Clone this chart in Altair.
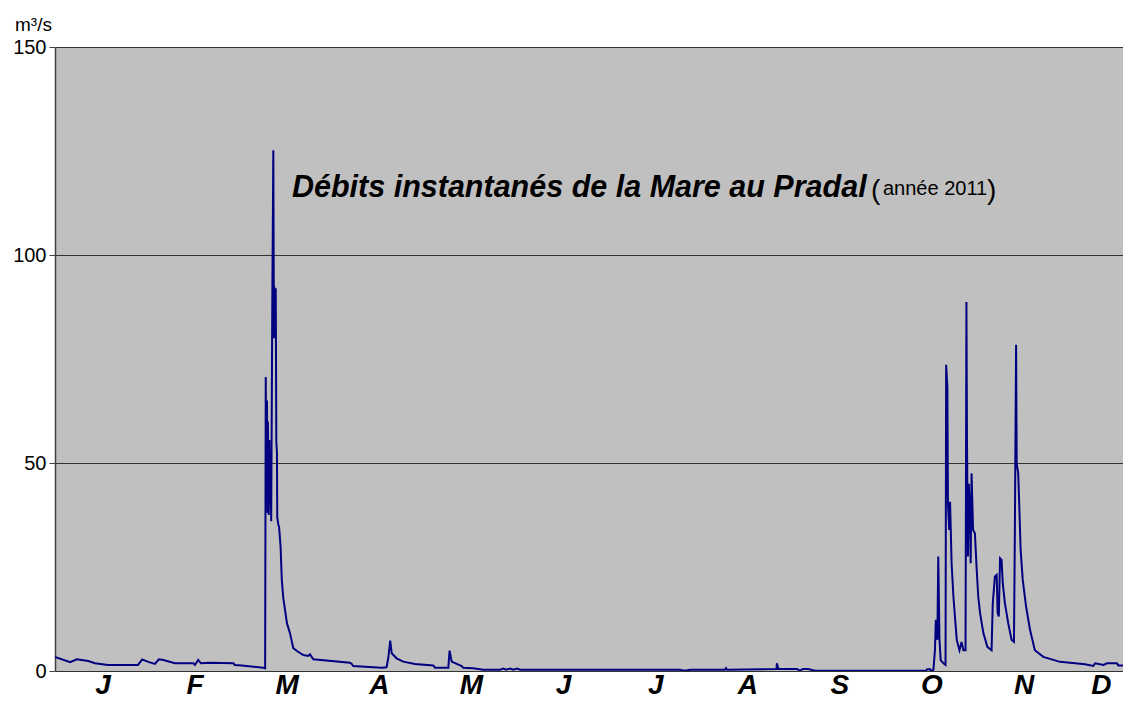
import altair as alt
import pandas as pd

# ---- data (day of year, flow in m3/s) ----
day = [0.0, 5.0, 7.2, 11.0, 13.2, 17.5, 27.4, 28.8, 30.8, 33.0, 34.3, 35.8, 39.6,
       45.7, 46.2, 47.3, 48.2, 51.2, 58.9, 59.4, 61.7, 68.8, 69.4,
       69.6, 69.8, 70.0, 70.2, 70.3, 70.6, 70.8, 71.0, 71.2, 71.4, 71.7, 71.8, 72.1,
       72.3, 72.4, 72.7, 72.9, 73.1, 73.3, 73.4, 73.8, 74.0, 74.5, 74.9, 75.4, 76.0,
       76.6, 77.6, 78.7, 79.9, 82.0, 83.6, 84.2, 85.3, 97.4, 98.0, 98.5, 107.9, 109.5,
       110.1, 110.7, 111.2, 112.8, 115.0, 118.9, 124.9, 125.5, 129.9, 130.3, 131.0,
       134.3, 134.8, 138.1, 141.4, 147.0, 148.0, 149.0, 150.3, 151.3, 152.6, 153.6,
       206.4, 207.4, 208.7, 209.7, 221.2, 221.6, 221.9, 238.3, 238.4, 238.9, 245.0,
       246.0, 247.0, 248.7, 250.3, 251.0, 287.6, 288.0, 289.0, 289.3, 290.1, 290.6,
       290.9, 291.4, 291.7, 292.1, 292.5, 293.4, 294.1, 294.3, 294.7, 294.9, 295.3,
       295.6, 296.1, 296.7, 297.8, 298.7, 299.4, 300.0, 300.7, 301.0, 301.2, 301.5,
       301.8, 302.2, 302.4, 302.7, 303.2, 303.8, 304.4, 304.9, 305.5, 306.6, 307.9,
       309.3, 309.7, 310.4, 311.0, 311.3, 311.7, 312.1, 312.6, 313.0, 313.7, 314.8,
       315.9, 316.7, 317.0, 317.4, 317.6, 318.1, 318.5, 318.9, 319.6, 320.7, 322.0,
       323.6, 326.4, 331.9, 340.2, 342.9, 343.5, 346.3, 347.4, 350.7, 351.2, 355.3]
flow = [3.4, 2.1, 2.8, 2.4, 1.85, 1.45, 1.45, 2.8, 2.2, 1.7, 2.8, 2.65, 1.85,
        1.85, 1.45, 2.65, 1.85, 2.0, 1.85, 1.45, 1.35, 0.8, 0.65,
        70.7, 43.5, 65.0, 38.0, 60.0, 37.5, 55.5, 40.0, 48.0, 36.0, 79.6, 93.0, 125.2,
        80.0, 92.5, 81.0, 92.0, 55.0, 52.4, 37.0, 35.0, 34.7, 29.9, 21.9, 17.5, 14.5,
        11.5, 9.1, 5.5, 4.8, 3.85, 3.6, 4.0, 2.8, 2.0, 1.7, 1.2, 0.8, 0.9,
        3.3, 7.3, 4.25, 3.05, 2.25, 1.7, 1.35, 0.8, 0.8, 4.9, 2.25,
        1.2, 0.8, 0.65, 0.3, 0.3, 0.6, 0.3, 0.6, 0.3, 0.6, 0.3,
        0.3, 0.1, 0.1, 0.3, 0.3, 0.7, 0.3, 0.5, 1.85, 0.5, 0.5,
        0.1, 0.5, 0.5, 0.2, 0.05, 0.05, 0.4, 0.4, 0.0, 0.3, 5.0,
        12.3, 7.5, 27.5, 7.5, 2.6, 1.85, 1.45, 73.6, 68.3, 40.3, 33.9,
        40.7, 25.9, 17.9, 7.5, 5.0, 7.0, 5.0, 5.0, 88.7, 53.9, 27.5,
        45.0, 37.0, 25.9, 47.5, 33.9, 33.1, 24.3, 17.9, 13.9, 9.1, 5.8,
        5.0, 16.3, 22.7, 23.1, 13.9, 13.1, 27.1, 26.7, 21.1, 16.3, 11.5,
        7.5, 7.0, 33.9, 78.4, 49.9, 47.5, 38.7, 29.1, 21.9, 15.5, 9.9,
        5.0, 3.4, 2.2, 1.6, 1.2, 1.85, 1.45, 1.85, 1.85, 1.35, 1.35]

month_labels = ["J", "F", "M", "A", "M", "J", "J", "A", "S", "O", "N", "D"]
y_ticks = [0, 50, 100, 150]

title_main = "Débits instantanés de la Mare au Pradal"
title_sub = "année 2011"
unit_label = "m³/s"

# ---- layout ----
W, H = 1068, 624
DAYS_PER_MONTH = 365 / 12
PX_PER_DAY = 3.028
X_MAX = W / PX_PER_DAY          # visible part of the year (the right end is cut)
LABEL_END = 355.3               # labels centred on the visible part of each month
month_starts = [i * DAYS_PER_MONTH for i in range(12)]
label_pos = [(s + min(s + DAYS_PER_MONTH, LABEL_END)) / 2 for s in month_starts]

df = pd.DataFrame({"day": day, "flow": flow})
lab = pd.DataFrame({"pos": label_pos, "m": month_labels, "i": list(range(12))})

xs = alt.Scale(domain=[0, X_MAX], nice=False, zero=False)
ys = alt.Scale(domain=[0, 150], nice=False)

line = alt.Chart(df).mark_line(color="#000080", strokeWidth=2, clip=True).encode(
    x=alt.X("day:Q", scale=xs, axis=alt.Axis(
        values=month_starts, labels=False, title=None, grid=False, ticks=True,
        tickSize=6, tickColor="#404040", tickWidth=1,
        domainColor="#555555", domainWidth=2)),
    y=alt.Y("flow:Q", scale=ys, axis=alt.Axis(
        values=y_ticks, title=None, grid=True, gridColor="#333333", gridWidth=1,
        tickSize=6, tickColor="#404040", domainColor="#404040", domainWidth=1.5,
        labelFont="Liberation Sans", labelFontSize=20, labelColor="black",
        labelPadding=3)),
    order="day:Q",
)

months = alt.Chart(lab).mark_text(
    font="Liberation Sans", fontSize=28, fontWeight="bold", fontStyle="italic",
    align="center", baseline="alphabetic", color="black", dx=2,
).encode(
    x=alt.X("pos:Q", scale=xs, axis=None),
    y=alt.value(H + 23),
    text="m:N",
    detail="i:O",
)

def txt(s, x, y, size, weight="normal", style="normal", font="Liberation Sans"):
    return alt.Chart(pd.DataFrame({"t": [s]})).mark_text(
        font=font, fontSize=size, fontWeight=weight, fontStyle=style,
        align="left", baseline="alphabetic", color="black",
    ).encode(x=alt.value(x), y=alt.value(y), text="t:N")

t1 = txt(title_main, 237, 150, 30.5, "bold", "italic")
t2 = txt("(", 816, 152, 28)
t3 = txt(title_sub, 828, 148, 20)
t4 = txt(")", 932, 152, 28)
unit = txt(unit_label, -40, -16, 19)

chart = alt.layer(line, months, t1, t2, t3, t4, unit).properties(
    width=W, height=H,
    padding={"left": 47, "top": 39, "right": 0, "bottom": 29},
    autosize=alt.AutoSizeParams(type="none"),
).configure_view(fill="#C0C0C0", stroke="transparent")

chart.save("out.html", embed_options={"renderer": "svg", "actions": False})
